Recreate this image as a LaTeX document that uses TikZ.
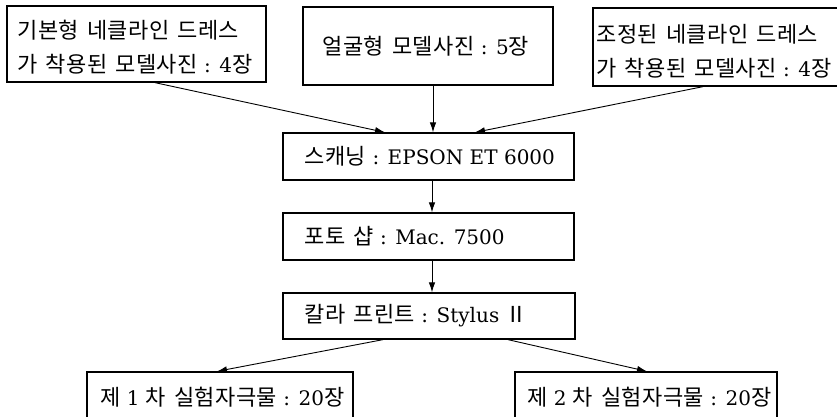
\documentclass[tikz,border=0pt]{standalone}
\usepackage{fontspec}
\setmainfont{DejaVu Serif}
\newfontfamily\kr[Scale=1.1,WordSpace=1.5,LetterSpace=2]{Noto Sans CJK KR}
\usetikzlibrary{arrows.meta}
\begin{document}
\begin{tikzpicture}[x=1pt,y=-1pt,
  boxnode/.style={draw,line width=1.3pt,inner sep=0pt,minimum height=#1},
  boxnode/.default=46pt,
  label/.style={anchor=west,inner sep=0pt,align=left},
  conn/.style={line width=0.9pt,-{Latex[length=10pt,width=6.5pt]}},
  font=\fontsize{20}{34}\selectfont]
\useasboundingbox[fill=white] (0,0) rectangle (837,417);
% top row
\node[boxnode=76pt,minimum width=259pt] (b1) at (136.5,44) {};
\node[label] (b1t) at ([xshift=11pt,yshift=-3pt]b1.west)
  {{\kr 기본형 네클라인 드레스}\\{\kr 가 착용된 모델사진} : 4{\kr 장}};
\node[boxnode=78pt,minimum width=250pt] (b2) at (428,46) {};
\node[label] (b2t) at ([xshift=20pt]b2.west) {{\kr 얼굴형 모델사진} : 5{\kr 장}};
\node[boxnode=78pt,minimum width=257pt] (b3) at (721.5,47) {};
\node[label] (b3t) at ([xshift=4pt,yshift=-4pt]b3.west)
  {{\kr 조정된 네클라인 드레스}\\{\kr 가 착용된 모델사진} : 4{\kr 장}};
% middle column
\node[boxnode=47pt,minimum width=291pt] (scan) at (428.5,156.5) {};
\node[label] (scant) at ([xshift=22pt]scan.west) {{\kr 스캐닝} : EPSON ET 6000};
\node[boxnode=47pt,minimum width=291pt] (photo) at (428.5,236.5) {};
\node[label] (photot) at ([xshift=22pt]photo.west) {{\kr 포토 샵} : Mac. 7500};
\node[boxnode=46pt,minimum width=292pt] (print) at (429,316) {};
\node[label] (printt) at ([xshift=22pt]print.west) {{\kr 칼라 프린트} : Stylus {\kr Ⅱ}};
% bottom row
\node[boxnode=48pt,minimum width=266pt] (r1) at (220,396) {};
\node[label] (r1t) at (100,397) {{\kr 제} 1 {\kr 차 실험자극물} : 20{\kr 장}};
\node[boxnode=48pt,minimum width=262pt] (r2) at (646,396) {};
\node[label] (r2t) at (527,397) {{\kr 제} 2 {\kr 차 실험자극물} : 20{\kr 장}};
% connectors
\draw[conn] ([xshift=18.5pt]b1.south) -- ([xshift=-43.5pt]scan.north);
\draw[conn] ([xshift=5pt]b2.south) -- ([xshift=4.5pt]scan.north);
\draw[conn] ([xshift=-18.5pt]b3.south) -- ([xshift=46.5pt]scan.north);
\draw[conn] ([xshift=3.5pt]scan.south) -- ([xshift=3.5pt]photo.north);
\draw[conn] ([xshift=3.5pt]photo.south) -- ([xshift=3pt]print.north);
\draw[conn] ([xshift=-46pt]print.south) -- ([xshift=-3pt]r1.north);
\draw[conn] ([xshift=79pt]print.south) -- ([xshift=1pt]r2.north);
\end{tikzpicture}
\end{document}
